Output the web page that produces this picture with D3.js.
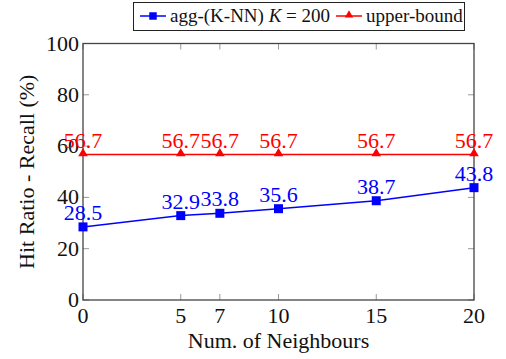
<!DOCTYPE html>
<html>
<head>
<meta charset="utf-8">
<script src="https://cdn.jsdelivr.net/npm/d3@7"></script>
<style>
  html, body { margin: 0; padding: 0; background: #fff; }
  svg text { font-family: "Liberation Serif", "DejaVu Serif", "Noto Serif", serif !important; }
</style>
</head>
<body>
<svg id="chart" width="506" height="359"></svg>
<script>
// Neighbour counts on the x axis
const neighbours = [0, 5, 7, 10, 15, 20];
// Hit ratio / recall (%) for the aggregated K-NN model
const aggKnn = [28.5, 32.9, 33.8, 35.6, 38.7, 43.8];
// Upper bound (%)
const upperBound = [56.7, 56.7, 56.7, 56.7, 56.7, 56.7];
const xTicks = [0, 5, 7, 10, 15, 20];
const yTicks = [0, 20, 40, 60, 80, 100];

const svg = d3.select("#chart");
const plotLeft = 83, plotRight = 474, plotTop = 43.5, plotBottom = 300;

const x = d3.scaleLinear().domain([0, 20]).range([plotLeft, plotRight]);
const y = d3.scaleLinear().domain([0, 100]).range([plotBottom, plotTop]);

const axisColor = "#444";
const fontSize = 22;

// inward ticks on all four sides
const tickLen = 6;
const g = svg.append("g");
yTicks.forEach(t => {
  g.append("line").attr("x1", plotLeft).attr("x2", plotLeft + tickLen)
    .attr("y1", y(t)).attr("y2", y(t)).attr("stroke", "#999").attr("stroke-width", 1);
  g.append("line").attr("x1", plotRight).attr("x2", plotRight - tickLen)
    .attr("y1", y(t)).attr("y2", y(t)).attr("stroke", "#999").attr("stroke-width", 1);
});
xTicks.forEach(t => {
  g.append("line").attr("x1", x(t)).attr("x2", x(t))
    .attr("y1", plotBottom).attr("y2", plotBottom - tickLen).attr("stroke", "#999").attr("stroke-width", 1);
  g.append("line").attr("x1", x(t)).attr("x2", x(t))
    .attr("y1", plotTop).attr("y2", plotTop + tickLen).attr("stroke", "#999").attr("stroke-width", 1);
});

// frame
svg.append("rect").attr("x", plotLeft).attr("y", plotTop)
  .attr("width", plotRight - plotLeft).attr("height", plotBottom - plotTop)
  .attr("fill", "none").attr("stroke", axisColor).attr("stroke-width", 1.3);

// tick labels
svg.append("g").selectAll("text").data(yTicks).join("text")
  .attr("x", plotLeft - 4).attr("y", d => y(d) + 7)
  .attr("text-anchor", "end").attr("font-size", fontSize).attr("fill", "#111")
  .text(d => d);
svg.append("g").selectAll("text").data(xTicks).join("text")
  .attr("x", d => x(d)).attr("y", plotBottom + 23)
  .attr("text-anchor", "middle").attr("font-size", fontSize).attr("fill", "#111")
  .text(d => d);

// axis titles
svg.append("text").attr("x", (plotLeft + plotRight) / 2).attr("y", 348)
  .attr("text-anchor", "middle").attr("font-size", fontSize).attr("fill", "#111")
  .text("Num. of Neighbours");
svg.append("text")
  .attr("transform", `translate(34,${(plotTop + plotBottom) / 2}) rotate(-90)`)
  .attr("text-anchor", "middle").attr("font-size", fontSize).attr("fill", "#111")
  .text("Hit Ratio - Recall (%)");

const line = d3.line().x(d => x(d[0])).y(d => y(d[1]));

function drawSeries(vals, color, marker) {
  const pts = neighbours.map((n, i) => [n, vals[i]]);
  svg.append("path").datum(pts).attr("d", line)
    .attr("fill", "none").attr("stroke", color).attr("stroke-width", 1.5);
  const sym = d3.symbol().type(marker === "square" ? d3.symbolSquare : d3.symbolTriangle)
    .size(marker === "square" ? 81 : 40);
  svg.append("g").selectAll("path").data(pts).join("path")
    .attr("transform", d => `translate(${x(d[0])},${y(d[1]) + (marker === "square" ? 0 : -1)})`)
    .attr("d", sym).attr("fill", color);
  svg.append("g").selectAll("text").data(pts).join("text")
    .attr("x", d => x(d[0])).attr("y", d => y(d[1]) - 7)
    .attr("text-anchor", "middle").attr("font-size", fontSize).attr("fill", color)
    .text(d => d[1].toFixed(1));
}

drawSeries(upperBound, "#ff0000", "triangle");
drawSeries(aggKnn, "#0000ff", "square");

// legend
const lg = svg.append("g");
lg.append("rect").attr("x", 133.5).attr("y", 2.5).attr("width", 331).attr("height", 28)
  .attr("fill", "#fff").attr("stroke", "#222").attr("stroke-width", 1);
lg.append("line").attr("x1", 140).attr("x2", 166).attr("y1", 16).attr("y2", 16)
  .attr("stroke", "#0000ff").attr("stroke-width", 1.5);
lg.append("path").attr("transform", "translate(153,16)")
  .attr("d", d3.symbol().type(d3.symbolSquare).size(56)).attr("fill", "#0000ff");
const t1 = lg.append("text").attr("x", 170).attr("y", 22).attr("font-size", 19).attr("fill", "#111");
t1.append("tspan").text("agg-(K-NN) ");
t1.append("tspan").attr("font-style", "italic").text("K");
t1.append("tspan").text(" = 200");
lg.append("line").attr("x1", 336).attr("x2", 362).attr("y1", 16).attr("y2", 16)
  .attr("stroke", "#ff0000").attr("stroke-width", 1.5);
lg.append("path").attr("transform", "translate(349,15)")
  .attr("d", d3.symbol().type(d3.symbolTriangle).size(30)).attr("fill", "#ff0000");
lg.append("text").attr("x", 366).attr("y", 22).attr("font-size", 19).attr("fill", "#111")
  .text("upper-bound");
</script>
</body>
</html>
